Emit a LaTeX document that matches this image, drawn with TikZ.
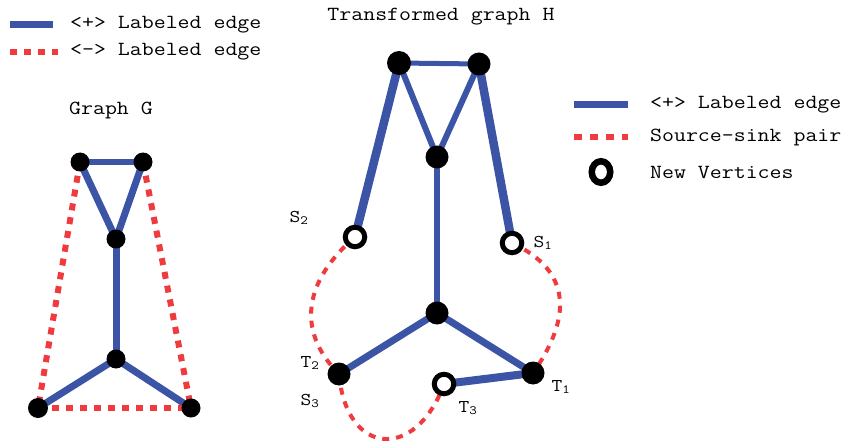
\documentclass[tikz,border=0pt]{standalone}
\usepackage{fontspec}
\setmainfont{Latin Modern Mono}[FakeStretch=1.16]
\usetikzlibrary{backgrounds,shapes.geometric}
\definecolor{eblue}{HTML}{3B54A5}
\definecolor{ered}{HTML}{EF3A3E}
\tikzset{
  vtx/.style={circle,fill=black,inner sep=0pt,minimum size=#1},
  vtx/.default=20pt,
  newv/.style={circle,draw=black,line width=5pt,fill=white,inner sep=0pt,minimum size=19.5pt},
  legv/.style={ellipse,draw=black,line width=6.5pt,fill=white,inner sep=0pt,minimum width=18.5pt,minimum height=21.5pt},
  pos/.style={draw=eblue,line width=#1},
  pos/.default=7pt,
  neg/.style={draw=ered,line width=6pt,dash pattern=on 7pt off 7pt},
  pair/.style={draw=ered,line width=4pt,dash pattern=on 7pt off 7pt},
  txt/.style={font=\fontsize{20}{24}\selectfont,inner sep=0pt},
  lbl/.style={font=\fontsize{18}{20}\selectfont,inner sep=0pt},
}
\begin{document}
\begin{tikzpicture}[x=1pt,y=-1pt]
\useasboundingbox (0,0) rectangle (846,441);
% left legend
\coordinate (l1a) at (10,25); \coordinate (l1b) at (53,25);
\coordinate (l2a) at (10,52); \coordinate (l2b) at (58,52);
\draw[pos] (l1a) -- (l1b);
\draw[neg] (l2a) -- (l2b);
\node[txt,anchor=west] (lt1) at (70,25) {<+> Labeled edge};
\node[txt,anchor=west] (lt2) at (70,52) {<-> Labeled edge};
% Graph G
\node[txt] (gtitle) at (111,110) {Graph G};
\node[vtx=19pt] (g1) at (80,162) {};
\node[vtx=19pt] (g2) at (143,162) {};
\node[vtx=19pt] (g3) at (116,239) {};
\node[vtx=19pt] (g4) at (116,359) {};
\node[vtx=20pt] (g5) at (38,408) {};
\node[vtx=19pt] (g6) at (191,408) {};
\begin{scope}[on background layer]
\draw[pos=6pt] (g1.center) -- (g2.center);
\draw[pos] (g1.center) -- (g3.center);
\draw[pos] (g2.center) -- (g3.center);
\draw[pos] (g3.center) -- (g4.center);
\draw[pos] (g4.center) -- (g5.center);
\draw[pos] (g4.center) -- (g6.center);
\draw[neg] (g1.center) -- (g5.center);
\draw[neg] (g2.center) -- (g6.center);
\draw[neg] (g5.center) -- (g6.center);
\end{scope}
% Graph H
\node[txt] (htitle) at (441,17) {Transformed graph H};
\node[vtx=24pt] (h1) at (399,63) {};
\node[vtx=23pt] (h2) at (479,64) {};
\node[vtx=23pt] (h3) at (437,157) {};
\node[vtx=23pt] (h4) at (437,313) {};
\node[newv] (s2) at (355,237) {};
\node[newv] (s1) at (512,243) {};
\node[vtx=23pt] (t2) at (339,374) {};
\node[vtx=23pt] (t1) at (533,373) {};
\node[newv] (t3) at (444,384) {};
\begin{scope}[on background layer]
\draw[pos=5pt] (h1.center) -- (h2.center);
\draw[pos=6pt] (h1.center) -- (h3.center);
\draw[pos=6pt] (h2.center) -- (h3.center);
\draw[pos=6pt] (h3.center) -- (h4.center);
\draw[pos=8.5pt] (h1.center) -- (s2.center);
\draw[pos=8.5pt] (h2.center) -- (s1.center);
\draw[pos=7pt] (h4.center) -- (t2.center);
\draw[pos=7pt] (h4.center) -- (t1.center);
\draw[pos=8pt] (t1.center) -- (t3.center);
\draw[pair] (s2.center) .. controls +(-50,43) and +(-44,-44) .. (t2.center);
\draw[pair] (s1.center) to[out=-25,in=55,looseness=1.3] (t1.center);
\draw[pair] (t2.center) to[out=-85,in=-110,looseness=2] (t3.center);
\end{scope}
\node[lbl] (ls2) at (299,218) {S\textsubscript{2}};
\node[lbl] (lt2b) at (310,363) {T\textsubscript{2}};
\node[lbl] (ls3) at (310,401) {S\textsubscript{3}};
\node[lbl] (lt3) at (468,408) {T\textsubscript{3}};
\node[lbl] (ls1) at (543,243) {S\textsubscript{1}};
\node[lbl] (lt1b) at (561,387) {T\textsubscript{1}};
% right legend
\coordinate (r1a) at (574,105); \coordinate (r1b) at (628,105);
\coordinate (r2a) at (574,137); \coordinate (r2b) at (628,137);
\draw[pos] (r1a) -- (r1b);
\draw[neg,dash pattern=on 8pt off 8pt] (r2a) -- (r2b);
\node[legv] (rv) at (601,172) {};
\node[txt,anchor=west] (rt1) at (650,105) {<+> Labeled edge};
\node[txt,anchor=west] (rt2) at (650,137) {Source-sink pair};
\node[txt,anchor=west] (rt3) at (650,172) {New Vertices};
\end{tikzpicture}
\end{document}
